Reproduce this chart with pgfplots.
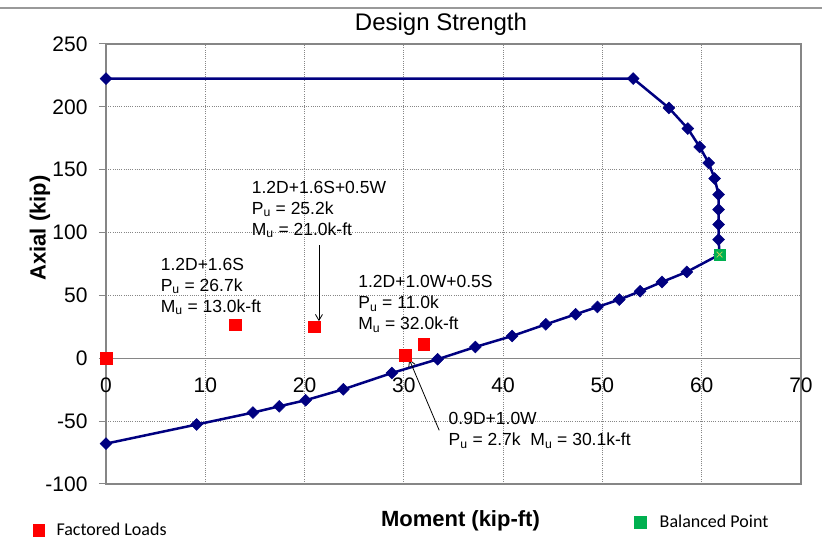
\documentclass[border=0pt]{standalone}
\usepackage{fontspec}
\setmainfont{Liberation Sans}
\newfontfamily\legfont{Carlito}
\usepackage{pgfplots}
\pgfplotsset{compat=1.18}
\usetikzlibrary{arrows.meta}
\definecolor{curveblue}{RGB}{0,0,128}
\definecolor{gridgray}{RGB}{134,134,134}
\definecolor{loadred}{RGB}{255,0,0}
\definecolor{balgreen}{RGB}{0,176,80}
\newcommand{\annfont}{\fontsize{17.5}{21}\selectfont}
\begin{document}
\begin{tikzpicture}
\path[use as bounding box] (0pt,0pt) rectangle (822pt,559pt);
\draw[gray!80, line width=1.3pt] (0pt,551pt) -- (822pt,551pt);
\begin{axis}[
  at={(106pt,75pt)}, anchor=south west,
  scale only axis, width=695pt, height=440pt,
  xmin=0, xmax=70, ymin=-100, ymax=250,
  xtick={0,10,...,70}, ytick={-100,-50,...,250},
  axis line style={draw=gridgray, line width=1.2pt},
  grid=major,
  grid style={gridgray, line width=0.8pt, dash pattern=on 1pt off 1.2pt},
  tick align=outside, major tick length=7pt,
  tick style={draw=gridgray, line width=1pt},
  xtick style={draw=none},
  ytick pos=left,
  ticklabel style={font=\fontsize{21}{25}\selectfont},
  x tick label style={yshift=117pt},
  y tick label style={xshift=-8pt},
  /pgf/number format/assume math mode=true,
  clip=false,
  title={Design Strength},
  title style={at={(axis description cs:0.482,1.03)}, anchor=center, font=\fontsize{24}{28}\selectfont},
  xlabel={Moment (kip-ft)}, ylabel={Axial (kip)},
  every axis x label/.style={at={(axis description cs:0.51,-0.084)}, anchor=center, font=\bfseries\fontsize{22}{26}\selectfont},
  every axis y label/.style={at={(axis description cs:-0.095,0.582)}, rotate=90, anchor=center, font=\bfseries\fontsize{22}{26}\selectfont},
  legend style={at={(axis description cs:-0.110,-0.1045)}, anchor=west, draw=none, fill=none, font=\legfont\fontsize{18}{21}\selectfont},
]
\draw[gridgray, line width=1.1pt] (axis cs:0,0) -- (axis cs:70,0);
\addplot[curveblue, line width=2.5pt, mark=square*, mark size=4.2pt,
  mark options={rotate=45, line width=0.5pt}, forget plot] coordinates {
 (0,222.5) (53.1,222.5) (56.7,199.1) (58.6,182.7) (59.8,168.1) (60.7,155.4)
 (61.3,143.0) (61.7,130.2) (61.7,118.3) (61.7,106.4) (61.7,94.4) (61.8,82.5)
 (58.5,68.7) (56.0,60.7) (53.8,53.3) (51.7,46.7) (49.5,40.8) (47.3,35.0)
 (44.3,27.0) (40.9,17.7) (37.2,9.0) (33.4,-0.8) (28.8,-11.7) (23.9,-24.7)
 (20.1,-33.4) (17.45,-38.2) (14.8,-43.2) (9.13,-52.7) (0,-67.9)
};
\addplot[only marks, mark=square*, mark size=5.9pt, color=loadred] coordinates {
 (0,0) (13.0,26.7) (21.0,25.2) (32.0,11.0) (30.1,2.7)
};
\addlegendentry{\hspace*{10pt}Factored Loads}
\addplot[only marks, mark=square*, mark size=5.6pt, color=balgreen, forget plot] coordinates {(61.8,82.5)};
\addplot[only marks, mark=x, mark size=4pt, color={rgb,255:red,190;green,205;blue,90}, line width=0.8pt, forget plot] coordinates {(61.8,82.5)};
\node[anchor=west, align=left, inner sep=0pt, font=\annfont] at (axis cs:14.67,118.5)
  {1.2D+1.6S+0.5W\\P\textsubscript{u} = 25.2k\\M\textsubscript{u} = 21.0k-ft};
\node[anchor=west, align=left, inner sep=0pt, font=\annfont] at (axis cs:5.5,57.3)
  {1.2D+1.6S\\P\textsubscript{u} = 26.7k\\M\textsubscript{u} = 13.0k-ft};
\node[anchor=west, align=left, inner sep=0pt, font=\annfont] at (axis cs:25.4,43)
  {1.2D+1.0W+0.5S\\P\textsubscript{u} = 11.0k\\M\textsubscript{u} = 32.0k-ft};
\node[anchor=west, align=left, inner sep=0pt, font=\annfont] at (axis cs:34.5,-57.3)
  {0.9D+1.0W\\P\textsubscript{u} = 2.7k\ \ M\textsubscript{u} = 30.1k-ft};
\draw[black, line width=0.8pt, -{Straight Barb[length=6pt,width=7pt]}] (axis cs:21.45,89.9) -- (axis cs:21.45,29.5);
\draw[black, line width=0.8pt, -{Straight Barb[length=6pt,width=7pt]}] (axis cs:33.56,-57.3) -- (axis cs:30.55,-1.0);
\end{axis}
\begin{axis}[
  at={(106pt,75pt)}, anchor=south west,
  scale only axis, width=695pt, height=440pt,
  hide axis, xmin=0, xmax=1, ymin=0, ymax=1,
  legend style={at={(axis description cs:0.7547,-0.0864)}, anchor=west, draw=none, fill=none, font=\legfont\fontsize{18}{21}\selectfont},
]
\addlegendimage{only marks, mark=square*, mark size=6pt, color=balgreen}
\addlegendentry{\hspace*{12pt}Balanced Point}
\end{axis}
\end{tikzpicture}
\end{document}
